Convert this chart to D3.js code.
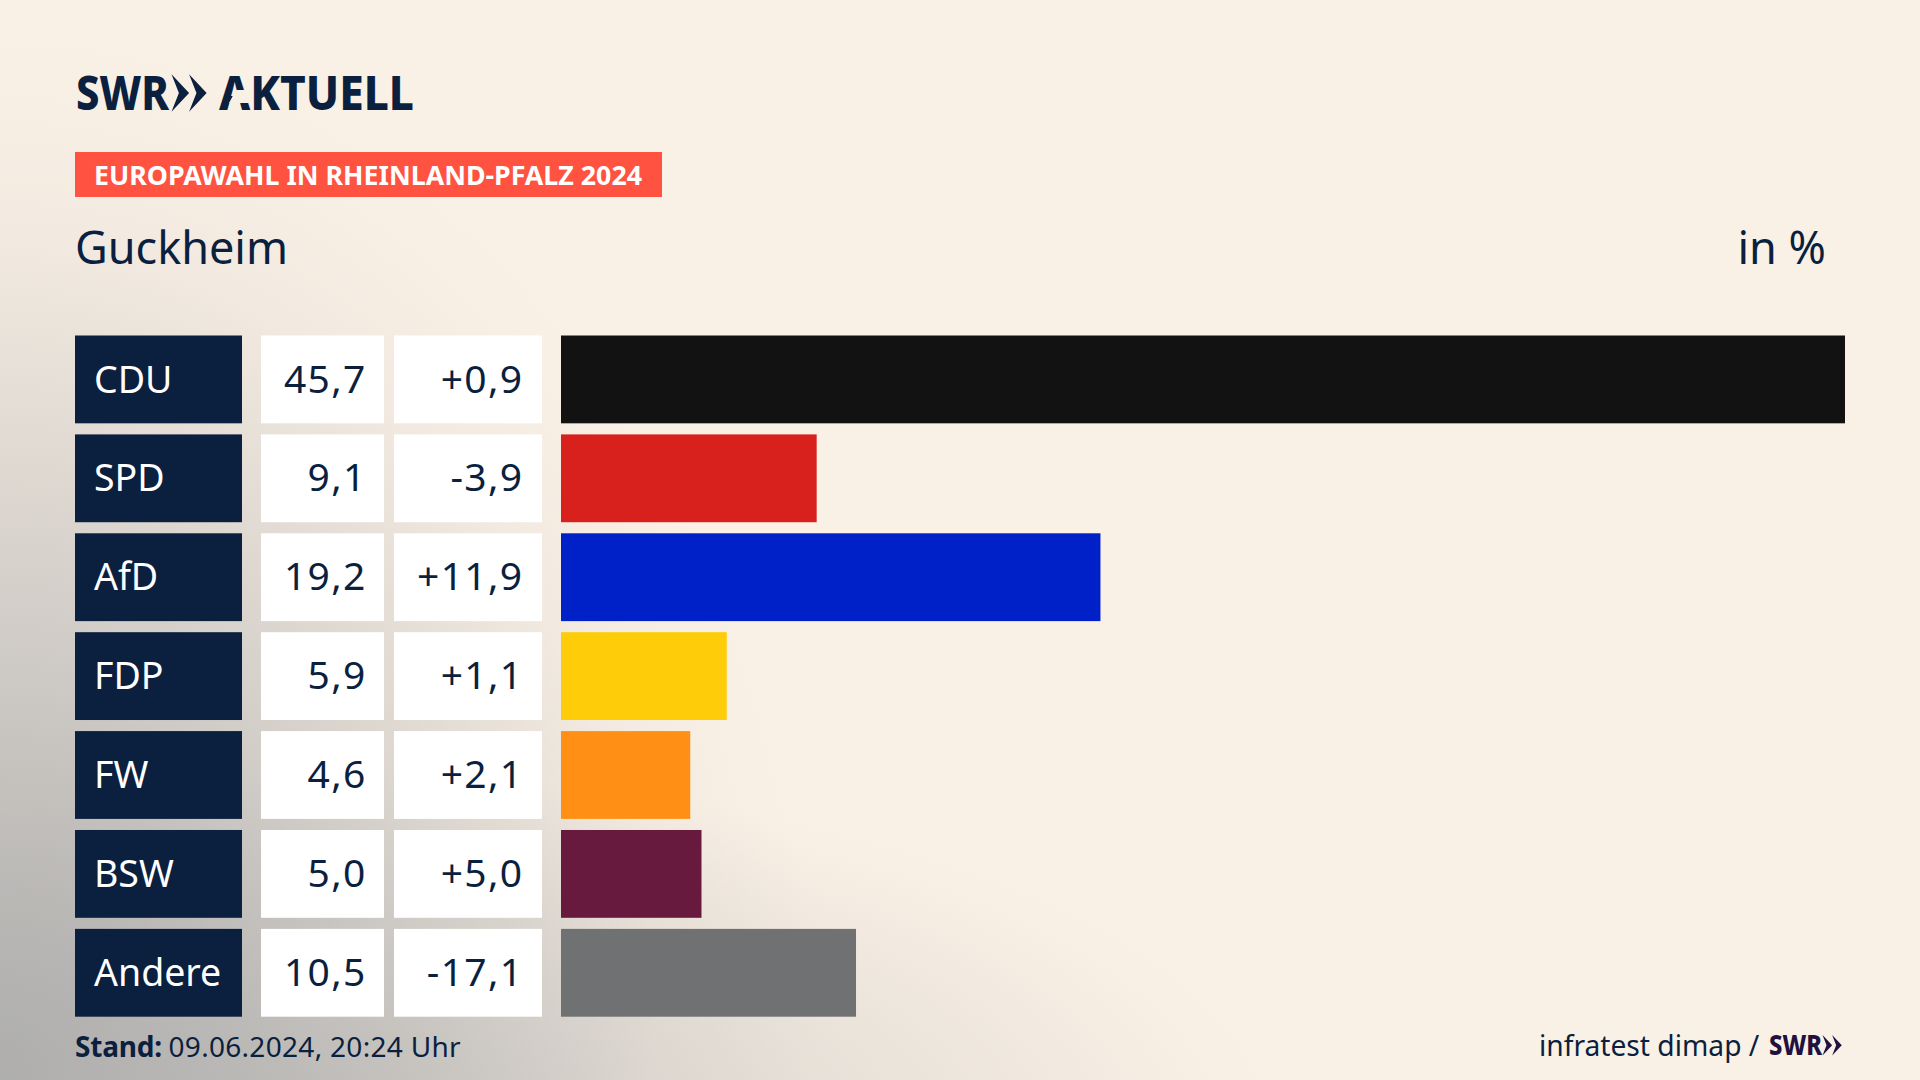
<!DOCTYPE html>
<html lang="de">
<head>
<meta charset="utf-8">
<title>Europawahl in Rheinland-Pfalz 2024 – Guckheim</title>
<script src="https://cdn.jsdelivr.net/npm/d3@7/dist/d3.min.js"></script>
<style>
html,body{margin:0;padding:0;width:1920px;height:1080px;overflow:hidden;background:#FAF1E6}
svg{display:block}
text{font-family:"Noto Sans",sans-serif;fill:#0B1F3F}
</style>
</head>
<body>
<svg id="chart" width="1920" height="1080" viewBox="0 0 1920 1080"></svg>
<script>
const parties = ["CDU","SPD","AfD","FDP","FW","BSW","Andere"];
const shares  = [45.7,9.1,19.2,5.9,4.6,5.0,10.5];
const changes = [0.9,-3.9,11.9,1.1,2.1,5.0,-17.1];
const colors  = ["#121212","#D8201C","#0021C7","#FFCC0A","#FF9015","#68193E","#707173"];
const badgeText = "EUROPAWAHL IN RHEINLAND-PFALZ 2024";
const placeName = "Guckheim";
const unitText = "in %";
const standLabel = "Stand:";
const standValue = "09.06.2024, 20:24 Uhr";
const sourceText = "infratest dimap /";

const NAVY = "#0B1F3F";
const svg = d3.select("#chart");
const defs = svg.append("defs");

function glow(id,cx,cy,rx,ry,stops){
  const g = defs.append("radialGradient").attr("id",id)
    .attr("gradientUnits","userSpaceOnUse")
    .attr("cx",0).attr("cy",0).attr("r",1)
    .attr("gradientTransform",`translate(${cx} ${cy}) scale(${rx} ${ry})`);
  stops.forEach(([o,a])=>g.append("stop").attr("offset",o).attr("stop-color","#A9A9A9").attr("stop-opacity",a));
}
glow("glowLeft",0,1080,820,1050,[[0,0.9],[0.3,0.65],[0.55,0.38],[0.8,0.1],[1,0]]);
glow("glowBottom",300,1130,980,360,[[0,0.45],[0.5,0.25],[1,0]]);
svg.append("rect").attr("width",1920).attr("height",1080).attr("fill","#FAF1E6");
svg.append("rect").attr("width",1920).attr("height",1080).attr("fill","url(#glowLeft)");
svg.append("rect").attr("width",1920).attr("height",1080).attr("fill","url(#glowBottom)");

const loc = d3.formatLocale({decimal:",",thousands:".",grouping:[3],currency:["","€"],minus:"-"});
const fmtShare = loc.format(".1f");
const fmtChange = loc.format("+.1f");

const y = d3.scaleBand().domain(parties).range([335.5,1016.7]).paddingInner(0.112).paddingOuter(0);
const x = d3.scaleLinear().domain([0,45.7]).range([561,1845]);

function label(parent,txt,px,py,size,opts={}){
  const t = parent.append("text").text(txt).attr("x",px).attr("y",py)
    .attr("font-size",size).attr("text-anchor",opts.anchor||"start")
    .attr("font-weight",opts.weight||400);
  if(opts.fill) t.style("fill",opts.fill);
  if(opts.spacing) t.style("letter-spacing",opts.spacing+"px");
  if(opts.len) t.attr("textLength",opts.len).attr("lengthAdjust","spacingAndGlyphs");
  return t;
}
function chevrons(parent,x0,top,h,fill){
  const w = h*0.47;
  [0,1].forEach(i=>{
    const a = x0+i*w;
    const p = d3.path();
    p.moveTo(a,top); p.lineTo(a+w,top+h/2); p.lineTo(a,top+h);
    p.lineTo(a+w*0.42,top+h/2); p.closePath();
    parent.append("path").attr("d",p.toString()).attr("fill",fill);
  });
}

// Logo
label(svg,"SWR",76,110,48,{weight:800,len:93,fill:NAVY});
chevrons(svg,171.5,74.3,37.4,NAVY);
defs.append("clipPath").attr("id","noBar").append("path")
  .attr("clip-rule","evenodd")
  .attr("d","M200 60H430V120H200Z M236 90L245 90L252 103L229 103Z");
label(svg,"AKTUELL",219,110,48,{weight:800,len:195,fill:NAVY}).attr("clip-path","url(#noBar)");

// Badge
svg.append("rect").attr("x",75).attr("y",152).attr("width",587).attr("height",45).attr("fill","#FF5240");
label(svg,badgeText,94,185,27,{weight:700,len:548,fill:"#fff"});

// Heading
label(svg,placeName,75,264,45,{len:213});
label(svg,unitText,1826,264,45,{anchor:"end"});

// Rows
const rows = svg.selectAll("g.row").data(parties).join("g").attr("class","row")
  .attr("transform",d=>`translate(0,${y(d)})`);
const bh = y.bandwidth();
rows.append("rect").attr("x",75).attr("width",167).attr("height",bh).attr("fill",NAVY);
rows.append("rect").attr("x",261).attr("width",123).attr("height",bh).attr("fill","#fff");
rows.append("rect").attr("x",394).attr("width",148).attr("height",bh).attr("fill","#fff");
rows.append("rect").attr("x",x(0)).attr("width",(d,i)=>x(shares[i])-x(0)).attr("height",bh)
  .attr("fill",(d,i)=>colors[i]);
rows.each(function(d,i){
  const g = d3.select(this);
  label(g,d,94,57,37.5,{fill:"#fff"});
  label(g,fmtShare(shares[i]),366.5,57,39,{anchor:"end",spacing:1.3});
  label(g,fmtChange(changes[i]),523.3,57,39,{anchor:"end",spacing:1.3});
});

// Footer
const foot = label(svg,"",75,1057,28);
foot.append("tspan").attr("font-weight",700).style("letter-spacing","-0.2px").text(standLabel);
foot.append("tspan").attr("dx",-1).style("letter-spacing","0.3px").text(" "+standValue);
label(svg,sourceText,1539,1056,28.2);
label(svg,"SWR",1769,1055,28,{weight:800,len:53,fill:"#22113F"});
chevrons(svg,1822.5,1035,20.5,"#22113F");
</script>
</body>
</html>
